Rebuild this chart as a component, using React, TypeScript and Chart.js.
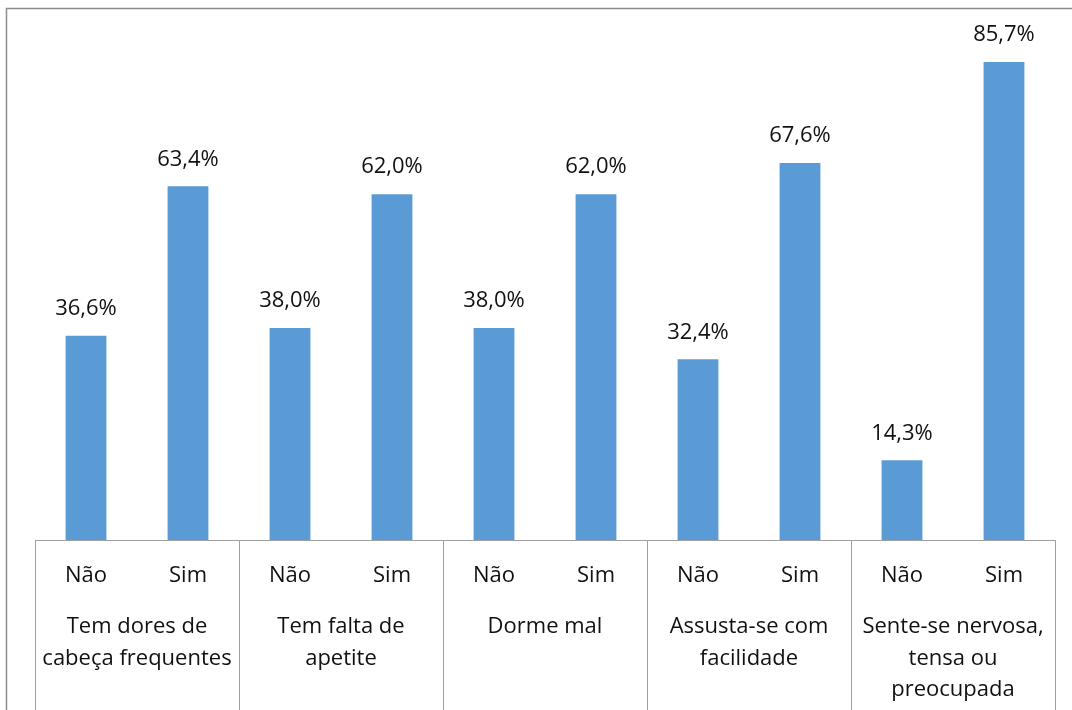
import React, { useEffect, useRef } from "react";
import { Chart, registerables } from "chart.js";

Chart.register(...registerables);

const groups: string[][] = [
  ["Tem dores de", "cabeça frequentes"],
  ["Tem falta de", "apetite"],
  ["Dorme mal"],
  ["Assusta-se com", "facilidade"],
  ["Sente-se nervosa,", "tensa ou", "preocupada"],
];
const answers = ["Não", "Sim", "Não", "Sim", "Não", "Sim", "Não", "Sim", "Não", "Sim"];
const values = [36.6, 63.4, 38.0, 62.0, 38.0, 62.0, 32.4, 67.6, 14.3, 85.7];

const FONT = "'Open Sans', 'Noto Sans', sans-serif";

const decor = {
  id: "decor",
  beforeDraw(chart: any) {
    const ctx = chart.ctx;
    ctx.save();
    ctx.fillStyle = "#ffffff";
    ctx.fillRect(0, 0, chart.width, chart.height);
    ctx.strokeStyle = "#8c8c8c";
    ctx.lineWidth = 1.5;
    ctx.beginPath();
    ctx.moveTo(6.5, chart.height);
    ctx.lineTo(6.5, 8.5);
    ctx.lineTo(chart.width, 8.5);
    ctx.stroke();
    ctx.restore();
  },
  afterDraw(chart: any) {
    const ctx = chart.ctx;
    const x = chart.scales.x;
    const area = chart.chartArea;
    ctx.save();
    ctx.strokeStyle = "#a0a0a0";
    ctx.lineWidth = 1;
    ctx.beginPath();
    ctx.moveTo(area.left, area.bottom + 0.5);
    ctx.lineTo(area.right, area.bottom + 0.5);
    const step = (area.right - area.left) / groups.length;
    for (let g = 0; g <= groups.length; g++) {
      const px = Math.round(area.left + step * g) + 0.5;
      ctx.moveTo(px, area.bottom);
      ctx.lineTo(px, chart.height);
    }
    ctx.stroke();

    ctx.fillStyle = "#111111";
    ctx.font = `22px ${FONT}`;
    ctx.textAlign = "center";
    ctx.textBaseline = "middle";
    answers.forEach((a, i) => {
      ctx.fillText(a, x.getPixelForValue(i), area.bottom + 36);
    });
    groups.forEach((lines, g) => {
      const cx = (x.getPixelForValue(2 * g) + x.getPixelForValue(2 * g + 1)) / 2;
      lines.forEach((ln, k) => {
        ctx.fillText(ln, cx, area.bottom + 87 + k * 31.5);
      });
    });

    const meta = chart.getDatasetMeta(0);
    meta.data.forEach((bar: any, i: number) => {
      const txt = values[i].toFixed(1).replace(".", ",") + "%";
      ctx.fillText(txt, bar.x, bar.y - 27);
    });
    ctx.restore();
  },
};

export default function App() {
  const ref = useRef<HTMLCanvasElement>(null);
  useEffect(() => {
    document.body.style.margin = "0";
    const chart = new Chart(ref.current!, {
      type: "bar",
      data: {
        labels: answers,
        datasets: [
          {
            data: values,
            backgroundColor: "#5b9bd5",
            categoryPercentage: 1,
            barPercentage: 0.4,
          },
        ],
      },
      options: {
        animation: false,
        responsive: false,
        layout: { padding: { left: 35, right: 17, top: 38, bottom: 170 } },
        plugins: { legend: { display: false }, tooltip: { enabled: false } },
        scales: {
          x: { display: false },
          y: { display: false, min: 0, max: 90 },
        },
      },
      plugins: [decor],
    });
    return () => chart.destroy();
  }, []);
  return <canvas ref={ref} width={1072} height={710} style={{ display: "block" }} />;
}
